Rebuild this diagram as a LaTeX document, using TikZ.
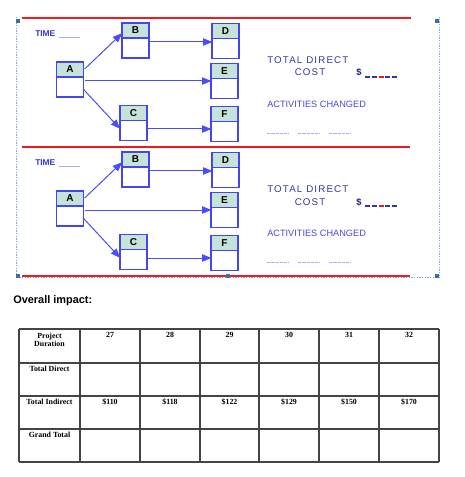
\documentclass[tikz,border=0pt]{standalone}
\usepackage{fontspec}
\setmainfont{Liberation Sans}
\newfontfamily\tabfont{Liberation Serif}
\newfontfamily\spacedfont[LetterSpace=12]{Liberation Sans}
\usetikzlibrary{arrows.meta,calc}
\definecolor{nodeblue}{HTML}{4646F0}
\definecolor{hdr}{HTML}{C5E3D8}
\definecolor{arrowblue}{HTML}{4B4BFF}
\definecolor{redline}{HTML}{EE1C1C}
\definecolor{dotblue}{HTML}{80A8DE}
\definecolor{handle}{HTML}{3F6EA8}
\definecolor{timeblue}{HTML}{3535D0}
\definecolor{costblue}{HTML}{3434A8}
\definecolor{actblue}{HTML}{4848E0}
\definecolor{dashlight}{HTML}{A8AEEE}
\definecolor{tabline}{HTML}{444444}
\tikzset{
  actbox/.style={draw=nodeblue, line width=1pt, fill=white, minimum width=20.25pt, minimum height=26.25pt, inner sep=0pt,
    path picture={
      \fill[hdr] (path picture bounding box.north west) rectangle ([yshift=-11.25pt]path picture bounding box.north east);
      \draw[nodeblue, line width=1pt] ([yshift=-11.25pt]path picture bounding box.north west) -- ([yshift=-11.25pt]path picture bounding box.north east);
    },
    label={[font=\bfseries\fontsize{7.5}{8}\selectfont, anchor=center, yshift=-5.8pt, inner sep=0pt]north:#1}},
  arr/.style={draw=arrowblue, line width=0.75pt, shorten >=-0.8pt, -{Triangle[length=7pt,width=5.5pt]}},
  txt/.style={inner sep=0pt, anchor=base west},
  tabtxt/.style={inner sep=0pt, anchor=base, font=\tabfont\bfseries\fontsize{5.9}{6.5}\selectfont},
  redrule/.style={draw=redline, line width=1.5pt},
  dotframe/.style={draw=dotblue, line width=0.7pt, dash pattern=on 1pt off 1pt},
  handlebox/.style={fill=handle, draw=none, minimum size=3pt, inner sep=0pt},
  grid/.style={draw=tabline, line width=0.8pt}
}
\begin{document}
\begin{tikzpicture}[x=0.75pt,y=-0.75pt]
\useasboundingbox (0,0) rectangle (464,477);

% red rules
\draw[redrule] (22,18) -- (411,18);
\draw[redrule] (22,147) -- (410,147);
\draw[redrule] (22,276) -- (410,276);

% dotted selection frame
\draw[dotframe] (16,17) -- (16,277.7) -- (439,277.7) -- (439,17);

% handles
\node[handlebox] (h1) at (18,21) {};
\node[handlebox] (h2) at (436.5,21) {};
\node[handlebox] (h3) at (18,275.8) {};
\node[handlebox] (h4) at (227.5,275.8) {};
\node[handlebox] (h5) at (437,276) {};

\foreach \p/\dy in {1/0,2/129}{
\begin{scope}[shift={(0,\dy)}]
  \node[actbox=A] (A\p) at (70,79.5) {};
  \node[actbox=B] (B\p) at (135.5,40.5) {};
  \node[actbox=C] (C\p) at (133.5,123) {};
  \node[actbox=D] (D\p) at (225.5,41) {};
  \node[actbox=E] (E\p) at (224.5,81) {};
  \node[actbox=F] (F\p) at (224.5,124) {};

  \draw[arr] ($(A\p.east)+(0.5,-10.5)$) -- ($(B\p.west)+(0,-6.5)$);
  \draw[arr] ($(A\p.east)+(1,1.5)$) -- (E\p.west);
  \draw[arr] ($(A\p.east)+(-1,9.5)$) -- ($(C\p.west)+(0,5)$);
  \draw[arr] ($(B\p.east)+(0,1.5)$) -- ($(D\p.west)+(0,1)$);
  \draw[arr] ($(C\p.east)+(0,6)$) -- ($(F\p.west)+(0,5)$);

  \node[txt, text=timeblue, font=\bfseries\fontsize{6.3}{7}\selectfont] (time\p) at (35,36.6) {TIME};
  \coordinate (tl\p) at (59,37.3);
  \coordinate (tr\p) at (80,37.3);
  \draw[dashlight, line width=0.6pt] (tl\p) -- (tr\p);

  \node[txt, text=costblue, font=\spacedfont\fontsize{7.3}{8}\selectfont] (tdc\p) at (267,63.3) {TOTAL DIRECT};
  \node[txt, text=costblue, font=\spacedfont\fontsize{7.3}{8}\selectfont] (cost\p) at (294.5,76) {COST};
  \node[txt, text=costblue!70!black, font=\bfseries\fontsize{7}{8}\selectfont] (dol\p) at (356,76) {\$};
  \foreach \a/\c in {365/costblue,371.8/costblue,378.6/redline,385.4/costblue,392.2/costblue}{
    \draw[\c, line width=1pt] (\a,77) -- ++(5,0);
  }
  \node[txt, text=actblue, font=\fontsize{6.9}{8}\selectfont] (act\p) at (267,107.3) {ACTIVITIES CHANGED};
  \foreach \a in {267,298,329}{
    \draw[dashlight, line width=1pt, dash pattern=on 2.5pt off 0.7pt] (\a,133.3) -- ++(22,0);
  }
\end{scope}
}

% Overall impact
\node[txt, font=\bfseries\fontsize{8.2}{9}\selectfont] (ovr) at (13,303.5) {Overall impact:};

% table grid
\foreach \x in {19,80,140,200,259,319,379,439} \draw[grid] (\x,329) -- (\x,462);
\foreach \y in {329,363,396,429,462} \draw[grid] (19,\y) -- (439,\y);

\node[tabtxt] (p1) at (49.5,338) {Project};
\node[tabtxt] (p2) at (49.5,346.7) {Duration};
\node[tabtxt] (r2) at (49.5,371) {Total Direct};
\node[tabtxt] (r3) at (49.5,404) {Total Indirect};
\node[tabtxt] (r4) at (49.5,437) {Grand Total};

\foreach \xc/\v/\c [count=\i] in {110/27/\$110, 170/28/\$118, 229.5/29/\$122, 289/30/\$129, 349/31/\$150, 409/32/\$170}{
  \node[tabtxt] (d\i) at (\xc,337.7) {\v};
  \node[tabtxt] (i\i) at (\xc,404) {\c};
}
\end{tikzpicture}
\end{document}
